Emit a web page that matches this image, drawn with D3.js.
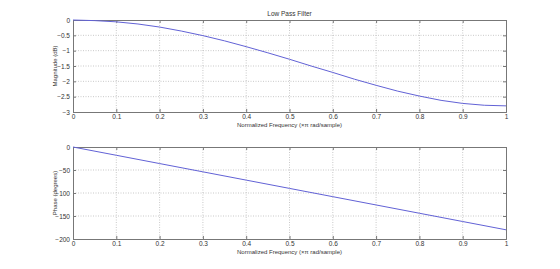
<!DOCTYPE html>
<html>
<head>
<meta charset="utf-8">
<script src="https://cdn.jsdelivr.net/npm/d3@7"></script>
<style>
  body { margin: 0; background: #fff; }
  text { font-family: "Liberation Sans", Arial, sans-serif; fill: #333; }
</style>
</head>
<body>
<div class="main"></div>
<script>
// normalized frequency samples (x pi rad/sample)
var freq = [0, 0.05, 0.1, 0.15, 0.2, 0.25, 0.3, 0.35, 0.4, 0.45, 0.5,
            0.55, 0.6, 0.65, 0.7, 0.75, 0.8, 0.85, 0.9, 0.95, 1];
var magnitude = [0, -0.02, -0.06, -0.13, -0.23, -0.36, -0.51, -0.68, -0.87, -1.07, -1.28,
                 -1.50, -1.71, -1.93, -2.13, -2.32, -2.48, -2.62, -2.72, -2.78, -2.80];
var phaseFreq = [0, 0.1, 0.2, 0.3, 0.4, 0.5, 0.6, 0.7, 0.8, 0.9, 1];
var phase = [0, -18, -36, -54, -72, -90, -108, -126, -144, -162, -180];

var xTicks = [0, 0.1, 0.2, 0.3, 0.4, 0.5, 0.6, 0.7, 0.8, 0.9, 1];
var magTicks = [0, -0.5, -1, -1.5, -2, -2.5, -3];
var phaseTicks = [0, -50, -100, -150, -200];

var svg = d3.select('.main')
    .append('svg')
    .attr('width', 560)
    .attr('height', 269);

svg.append('rect')
    .attr('width', 560)
    .attr('height', 269)
    .style('fill', '#fff');

function panel(top, bottom, yDomain, yTicks, xs, ys, ylabel, title) {
    var x = d3.scaleLinear().domain([0, 1]).range([73, 506]);
    var y = d3.scaleLinear().domain(yDomain).range([top, bottom]);
    var g = svg.append('g');

    // grid
    g.selectAll('.vgrid')
        .data(xTicks.slice(1, -1))
        .enter()
        .append('line')
        .attr('x1', function (d) { return x(d); })
        .attr('x2', function (d) { return x(d); })
        .attr('y1', top)
        .attr('y2', bottom)
        .style('stroke', '#bbb')
        .style('stroke-width', 0.8)
        .style('stroke-dasharray', '1,1.5');
    g.selectAll('.hgrid')
        .data(yTicks.slice(1, -1))
        .enter()
        .append('line')
        .attr('x1', 73)
        .attr('x2', 506)
        .attr('y1', function (d) { return y(d); })
        .attr('y2', function (d) { return y(d); })
        .style('stroke', '#bbb')
        .style('stroke-width', 0.8)
        .style('stroke-dasharray', '1,1.5');

    // axes with inward ticks
    var fmt = function (d) { return d3.format('~g')(d); };
    g.append('g')
        .attr('transform', 'translate(0,' + bottom + ')')
        .call(d3.axisBottom(x).tickValues(xTicks).tickSize(-3).tickPadding(2).tickFormat(fmt));
    g.append('g')
        .attr('transform', 'translate(0,' + top + ')')
        .call(d3.axisTop(x).tickValues(xTicks).tickSize(-3).tickFormat(''));
    g.append('g')
        .attr('transform', 'translate(73,0)')
        .call(d3.axisLeft(y).tickValues(yTicks).tickSize(-3).tickPadding(3).tickFormat(fmt));
    g.append('g')
        .attr('transform', 'translate(506,0)')
        .call(d3.axisRight(y).tickValues(yTicks).tickSize(-3).tickFormat(''));

    g.selectAll('.domain').style('stroke', '#777').style('stroke-width', 1);
    g.selectAll('.tick line').style('stroke', '#777');
    g.selectAll('.tick text')
        .style('font-size', '6.5px')
        .style('fill', '#333')
        .style('font-family', '"Liberation Sans", Arial, sans-serif');

    // curve
    var line = d3.line()
        .x(function (d) { return x(d[0]); })
        .y(function (d) { return y(d[1]); });
    g.append('path')
        .datum(d3.zip(xs, ys))
        .attr('d', line)
        .style('fill', 'none')
        .style('stroke', '#6262d6')
        .style('stroke-width', 1);

    g.append('text')
        .attr('x', 289.5)
        .attr('y', bottom + 15)
        .attr('text-anchor', 'middle')
        .style('font-size', '6px')
        .text('Normalized Frequency  (\u00d7\u03c0 rad/sample)');

    g.append('text')
        .attr('transform', 'translate(57,' + ((top + bottom) / 2) + ') rotate(-90)')
        .attr('text-anchor', 'middle')
        .style('font-size', '6px')
        .text(ylabel);

    if (title) {
        g.append('text')
            .attr('x', 289.5)
            .attr('y', top - 4)
            .attr('text-anchor', 'middle')
            .style('font-size', '6.5px')
            .text(title);
    }
}

panel(20, 112, [0, -3], magTicks, freq, magnitude, 'Magnitude (dB)', 'Low Pass Filter');
panel(147, 239, [0, -200], phaseTicks, phaseFreq, phase, 'Phase (degrees)', null);
</script>
</body>
</html>
